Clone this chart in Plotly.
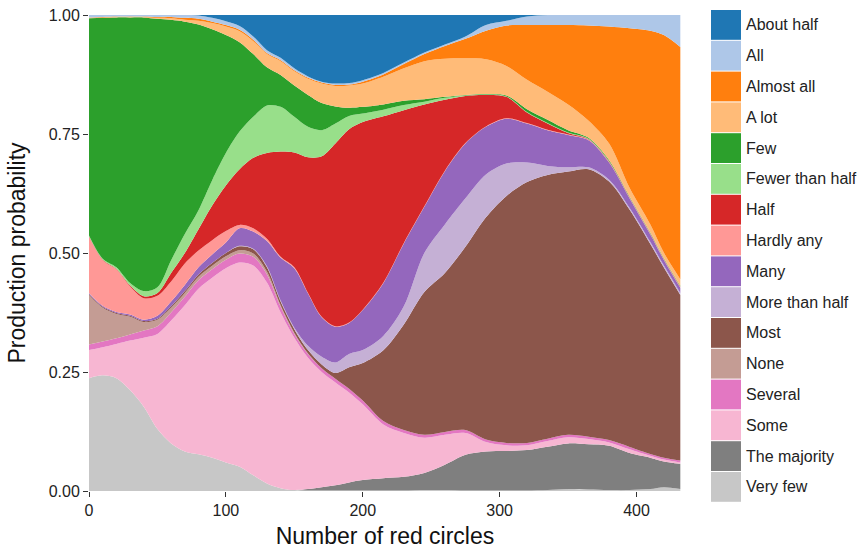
import plotly.graph_objects as go

# Number of red circles shown on the display
red_circles = [0, 10, 20, 30, 40, 50, 60, 70, 80, 90, 100, 110, 120, 130, 140, 150, 160, 170,
               180, 190, 200, 215, 230, 245, 260, 275, 290, 305, 320, 335, 350, 365, 380, 395,
               410, 420, 432]

# Production probability of each quantifier (stacked bottom to top)
very_few = [.237, .243, .237, .212, .177, .13, .10, .083, .077, .07, .06, .051, .033, .016, .006, .002,
            .001, .001, .001, .001, .001, .001, .001, .002, .002, .001, .001, .001, .001, .002, .004,
            .003, .002, .002, .004, .008, .004]
the_majority = [0, 0, 0, 0, 0, 0, 0, 0, 0, 0, 0, 0, 0, 0, 0, 0, .003, .007, .011, .017, .022, .026,
                .029, .036, .053, .075, .082, .083, .085, .091, .096, .095, .093, .078, .066, .054, .053]
some = [.059, .059, .072, .104, .145, .20, .258, .307, .348, .378, .408, .429, .441, .422, .369, .32,
        .276, .242, .216, .189, .159, .113, .092, .074, .063, .046, .02, .012, .01, .012, .013, .011,
        .007, .008, .004, .004, .003]
several = [.012, .012, .012, .013, .015, .016, .017, .018, .018, .018, .018, .019, .018, .017, .012,
           .008, .008, .008, .008, .008, .008, .007, .006, .006, .006, .006, .005, .005, .005, .005,
           .005, .005, .005, .005, .004, .004, .004]
none = [.104, .071, .051, .037, .018, .014, .010, .008, .007, .007, .007, .007, .007, .006, .003, .002,
        .001, 0, 0, 0, 0, 0, 0, 0, 0, 0, 0, 0, 0, 0, 0, 0, 0, 0, 0, 0, 0]
most = [.002, .002, .002, .002, .002, .002, .003, .004, .005, .006, .007, .008, .009, .009, .008, .008,
        .007, .008, .012, .045, .079, .149, .222, .30, .334, .385, .467, .519, .548, .554, .553, .562,
        .543, .50, .442, .40, .348]
more_than_half = [0, 0, 0, 0, 0, 0, 0, 0, 0, 0, 0, .001, .001, .002, .002, .003, .009, .016, .022,
                  .028, .027, .03, .038, .082, .102, .102, .09, .068, .041, .019, .009, .004, .004,
                  .004, .004, .004, .004]
many = [.002, .002, .002, .003, .003, .006, .010, .013, .015, .018, .022, .037, .036, .053, .09, .125,
        .11, .083, .075, .065, .084, .111, .132, .097, .112, .115, .10, .094, .082, .075, .068, .057,
        .036, .02, .016, .012, .011]
hardly_any = [.118, .096, .09, .059, .045, .042, .042, .045, .035, .03, .024, .007, .007, .005, .002,
              .002, .001, .001, .001, .001, .001, .001, .001, .001, .001, .001, .001, .001, .001, .001,
              .001, .001, .001, .001, .001, .001, .001]
half = [.001, .001, .001, .002, .004, .006, .018, .022, .045, .073, .096, .117, .148, .18, .221, .241,
        .285, .337, .384, .406, .394, .35, .279, .214, .149, .099, .066, .045, .022, .013, .003, .001,
        .001, .001, .001, .001, .001]
fewer_than_half = [.002, .002, .003, .005, .011, .012, .027, .04, .04, .053, .068, .079, .086, .10,
                   .094, .075, .064, .055, .042, .028, .018, .014, .011, .006, .004, .001, .001, .001,
                   .001, .001, .001, .001, .001, .001, .001, .001, .001]
few = [.456, .506, .525, .558, .575, .564, .505, .446, .39, .317, .248, .188, .132, .08, .067, .066,
       .067, .057, .036, .017, .014, .011, .009, .005, .002, .001, .001, .002, .006, .007, .005, .002,
       .002, .001, .001, .001, .001]
a_lot = [.001, .001, .001, .001, .001, .002, .003, .004, .008, .013, .018, .023, .027, .028, .029, .03,
         .034, .041, .043, .047, .049, .058, .068, .08, .08, .077, .073, .062, .062, .059, .054, .036,
         .035, .018, .017, .011, .014]
almost_all = [.001, .001, .001, .001, .001, .002, .003, .004, .004, .003, .003, .003, .003, .002, .002,
              .002, .002, .002, .002, .002, .004, .005, .009, .015, .027, .041, .06, .085, .115, .14,
              .167, .20, .246, .337, .407, .458, .488]
all_ = [.005, .004, .003, .003, .003, .004, .004, .006, .007, .008, .008, .008, .007, .006, .005, .004,
        .003, .002, .003, .003, .003, .003, .003, .003, .003, .005, .012, .01, .018, .021, .021, .022,
        .024, .028, .033, .042, .067]
about_half = [0, 0, 0, 0, 0, 0, 0, 0, .001, .006, .013, .023, .045, .074, .09, .112, .129, .14, .144,
              .143, .137, .122, .10, .079, .062, .045, .021, .012, .003, 0, 0, 0, 0, 0, 0, 0, 0]

series = [
    ("Very few", very_few, "#c7c7c7"),
    ("The majority", the_majority, "#7f7f7f"),
    ("Some", some, "#f7b6d2"),
    ("Several", several, "#e377c2"),
    ("None", none, "#c49c94"),
    ("Most", most, "#8c564b"),
    ("More than half", more_than_half, "#c5b0d5"),
    ("Many", many, "#9467bd"),
    ("Hardly any", hardly_any, "#ff9896"),
    ("Half", half, "#d62728"),
    ("Fewer than half", fewer_than_half, "#98df8a"),
    ("Few", few, "#2ca02c"),
    ("A lot", a_lot, "#ffbb78"),
    ("Almost all", almost_all, "#ff7f0e"),
    ("All", all_, "#aec7e8"),
    ("About half", about_half, "#1f77b4"),
]

FONT = "Arial, Liberation Sans, Helvetica, sans-serif"

fig = go.Figure()
for name, vals, color in series:
    fig.add_trace(go.Scatter(
        x=red_circles, y=vals, name=name, mode="lines",
        stackgroup="q", groupnorm="fraction",
        line=dict(width=0, shape="spline", smoothing=0.9, color=color),
        fillcolor=color, showlegend=False, hoverinfo="skip",
    ))

# Legend: colour swatches with labels, top entry is the top of the stack
W, H = 858, 549
L, R, T, B = 89, 681, 15, 491
pw, ph = R - L, B - T


def px_x(p):
    return (p - L) / pw


def px_y(p):
    return (B - p) / ph


row_top, row_pitch, sw_h = 10, 30.8, 29.8
shapes, annotations = [], []
for i, (name, _, color) in enumerate(reversed(series)):
    y0 = row_top + i * row_pitch
    shapes.append(dict(type="rect", xref="paper", yref="paper",
                       x0=px_x(711), x1=px_x(741), y0=px_y(y0 + sw_h), y1=px_y(y0),
                       fillcolor=color, line=dict(width=0), layer="above"))
    annotations.append(dict(xref="paper", yref="paper", x=px_x(744), y=px_y(y0 + sw_h / 2),
                            text=name, showarrow=False, xanchor="left", yanchor="middle",
                            font=dict(family=FONT, size=16, color="#222222")))

fig.update_layout(
    width=W, height=H,
    margin=dict(l=L, r=W - R, t=T, b=H - B, autoexpand=False),
    paper_bgcolor="white", plot_bgcolor="white",
    showlegend=False,
    shapes=shapes, annotations=annotations,
    font=dict(family=FONT, color="#222222"),
    xaxis=dict(range=[0, 432.5], tickvals=[0, 100, 200, 300, 400], showgrid=False, automargin=False,
               zeroline=False, showline=False, ticks="outside", ticklen=5, tickcolor="#333333",
               tickfont=dict(size=16, family=FONT, color="#222222"),
               title=dict(text="Number of red circles", font=dict(size=23, family=FONT, color="#111111"),
                          standoff=14)),
    yaxis=dict(range=[0, 1], tickvals=[0, 0.25, 0.5, 0.75, 1.0], tickformat=".2f", showgrid=False,
               automargin=False,
               zeroline=False, showline=False, ticks="outside", ticklen=5, tickcolor="#333333",
               tickfont=dict(size=16, family=FONT, color="#222222"),
               title=dict(text="Production probability", font=dict(size=23, family=FONT, color="#111111"),
                          standoff=16)),
)

fig.write_html("out.html")
